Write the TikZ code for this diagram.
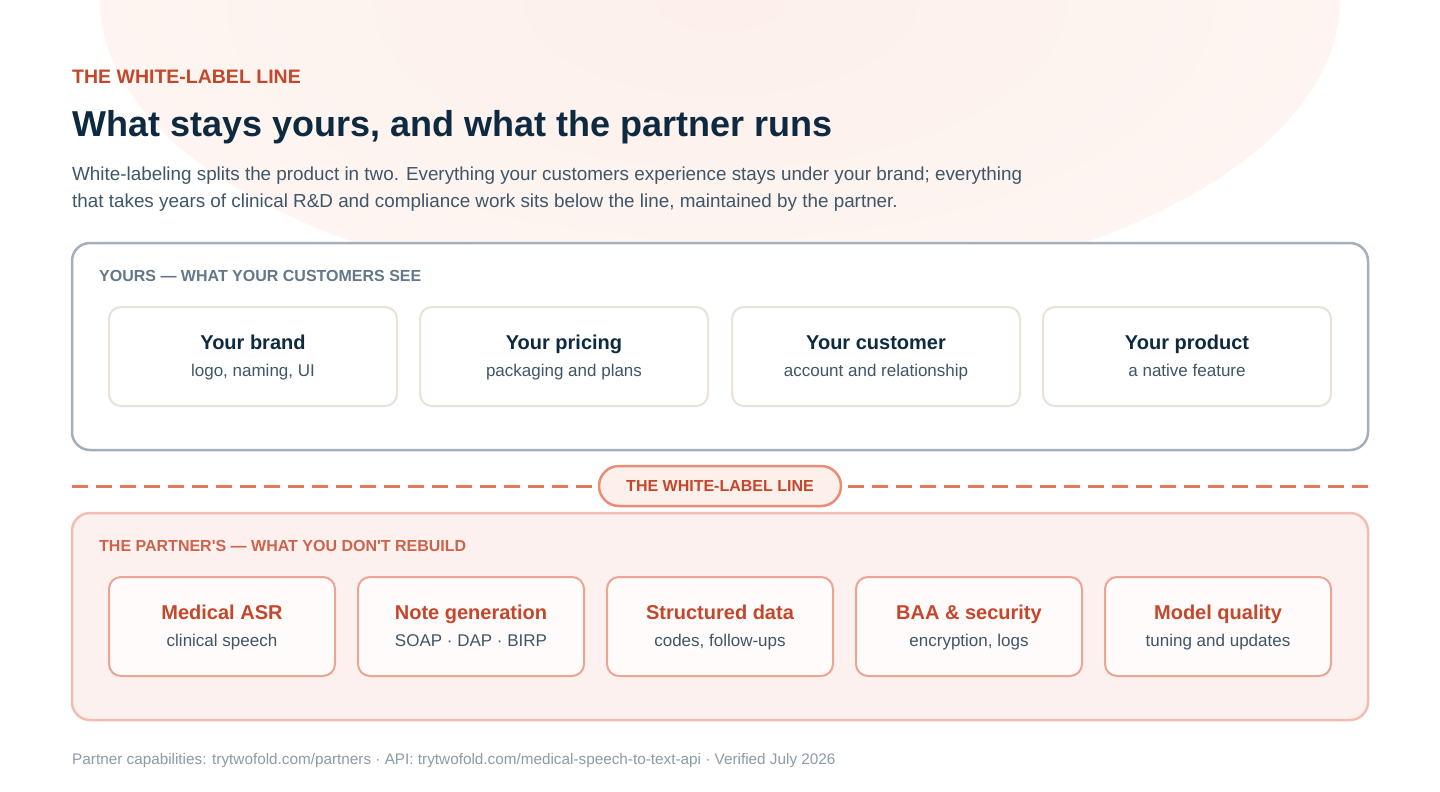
\documentclass[tikz,border=0pt]{standalone}
\usepackage{fontspec}
\setmainfont{Liberation Sans}[Ligatures=TeXOff]
\usetikzlibrary{shapes.misc}
\definecolor{navy}{HTML}{0E2A40}
\definecolor{slate}{HTML}{3F5668}
\definecolor{rust}{HTML}{C4472B}
\definecolor{graylbl}{HTML}{62788A}
\definecolor{panelgray}{HTML}{A3B0BB}
\definecolor{beige}{HTML}{E9E2D8}
\definecolor{salmon}{HTML}{E5795E}
\definecolor{pinkfill}{HTML}{FDF1EF}
\definecolor{pinkline}{HTML}{F3BDB0}
\definecolor{cardline}{HTML}{EBA693}
\definecolor{cardfill}{HTML}{FFFBFA}
\definecolor{pillfill}{HTML}{FDEFEA}
\definecolor{foot}{HTML}{8B9BA8}
\definecolor{glow}{HTML}{FDF0EB}
\pgfdeclareradialshading{glowshade}{\pgfpoint{0bp}{0bp}}{color(0bp)=(glow); color(20bp)=(glow!75!white); color(35bp)=(glow!45!white); color(47bp)=(glow!12!white); color(50bp)=(white)}
\begin{document}
\begin{tikzpicture}[x=1pt,y=-1pt,
  txt/.style={inner sep=0pt, anchor=west},
  panelyours/.style={draw=panelgray, line width=2.5pt, fill=white, rounded corners=18pt},
  panelpartner/.style={draw=pinkline, line width=2.5pt, fill=pinkfill, rounded corners=18pt},
  yourcard/.style={draw=beige, line width=2pt, fill=white, rounded corners=12pt, anchor=north west, minimum width=288pt, minimum height=99pt, inner sep=0pt},
  partcard/.style={draw=cardline, line width=2pt, fill=cardfill, rounded corners=12pt, anchor=north west, minimum width=226pt, minimum height=99pt, inner sep=0pt},
  ytitle/.style={inner sep=0pt, anchor=base, font=\fontsize{20}{24}\selectfont\bfseries, text=navy},
  ptitle/.style={inner sep=0pt, anchor=base, font=\fontsize{20}{24}\selectfont\bfseries, text=rust},
  csub/.style={inner sep=0pt, anchor=base, font=\fontsize{17}{20}\selectfont, text=slate},
  seclabel/.style={txt, font=\fontsize{16}{19}\selectfont\bfseries},
]
\useasboundingbox (0,0) rectangle (1440,792);
\fill[white] (0,0) rectangle (1440,792);
\begin{scope}
\clip (0,0) rectangle (1440,792);
\shade[shading=glowshade] (720,0) ellipse [x radius=620, y radius=300];
\end{scope}

% header
\node[txt, font=\fontsize{19.5}{23}\selectfont\bfseries, text=rust] (kicker) at (72,77) {THE WHITE-LABEL LINE};
\node[txt, font=\fontsize{36}{42}\selectfont\bfseries, text=navy] (title) at (72,127) {What stays yours, and what the partner runs};
\node[txt, font=\fontsize{18.85}{22}\selectfont, text=slate] (body1) at (72,176) {White-labeling splits the product in two. Everything your customers experience stays under your brand; everything};
\node[txt, font=\fontsize{18.85}{22}\selectfont, text=slate] (body2) at (72,203) {that takes years of clinical R\&D and compliance work sits below the line, maintained by the partner.};

% yours panel
\draw[panelyours] (72,243) rectangle (1368,450);
\node[seclabel, text=graylbl] (ylabel) at (99,276) {YOURS — WHAT YOUR CUSTOMERS SEE};

\foreach \i/\x/\t/\s in {1/108/Your brand/{logo, naming, UI}, 2/419/Your pricing/packaging and plans, 3/731/Your customer/account and relationship, 4/1042/Your product/a native feature}{
  \node[yourcard] (y\i) at (\x,306) {};
  \node[ytitle] (yt\i) at ([yshift=-43pt]y\i.north) {\t};
  \node[csub] (ys\i) at ([yshift=-70pt]y\i.north) {\s};
}

% white-label line
\coordinate (lineL) at (72,486);
\coordinate (lineR) at (1368,486);
\node[rounded rectangle, draw=salmon!85!white, line width=2.5pt, fill=pillfill, minimum width=242pt, minimum height=40pt, inner sep=0pt, text=rust, font=\fontsize{16}{19}\selectfont\bfseries] (pill) at (720,486) {THE WHITE-LABEL LINE};
\draw[salmon, line width=3pt, dash pattern=on 16pt off 8pt] (lineL) -- (pill.west);
\draw[salmon, line width=3pt, dash pattern=on 16pt off 8pt] (lineR) -- (pill.east);

% partner panel
\draw[panelpartner] (72,513) rectangle (1368,720);
\node[seclabel, text=rust!85!white] (plabel) at (99,546) {THE PARTNER'S — WHAT YOU DON'T REBUILD};

\foreach \i/\x/\t/\s in {1/108/Medical ASR/clinical speech, 2/357/Note generation/SOAP · DAP · BIRP, 3/606/Structured data/{codes, follow-ups}, 4/855/BAA \& security/{encryption, logs}, 5/1104/Model quality/tuning and updates}{
  \node[partcard] (p\i) at (\x,576) {};
  \node[ptitle] (pt\i) at ([yshift=-43pt]p\i.north) {\t};
  \node[csub] (ps\i) at ([yshift=-70pt]p\i.north) {\s};
}

% footer
\node[txt, font=\fontsize{15.3}{18}\selectfont, text=foot] (footer) at (72,761) {Partner capabilities: trytwofold.com/partners · API: trytwofold.com/medical-speech-to-text-api · Verified July 2026};
\end{tikzpicture}
\end{document}
